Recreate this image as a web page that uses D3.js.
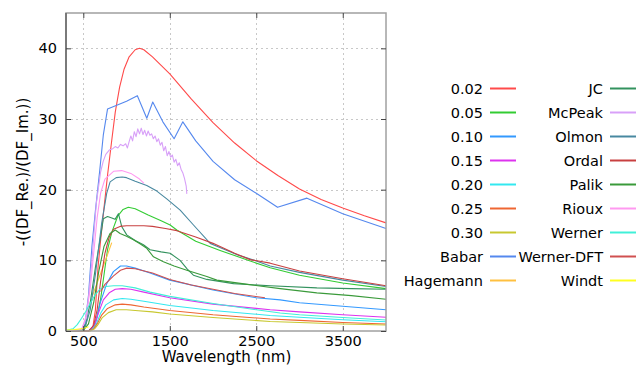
<!DOCTYPE html>
<html>
<head>
<meta charset="utf-8">
<script src="https://cdn.jsdelivr.net/npm/d3@7"></script>
<style>
  body { margin: 0; background: #fff; }
  svg { font-family: "DejaVu Sans", sans-serif; }
</style>
</head>
<body>
<div id="chart"></div>
<script>
// tick labels
const xTicks = [500, 1500, 2500, 3500];
const yTicks = [0, 10, 20, 30, 40];

// legend names, in legend order
const names = ["0.02", "0.05", "0.10", "0.15", "0.20", "0.25", "0.30", "Babar", "Hagemann",
  "JC", "McPeak", "Olmon", "Ordal", "Palik", "Rioux", "Werner", "Werner-DFT", "Windt"];

// [wavelength nm, -(Re/Im)]
const s002 = [[300,0],[560,0],[610,0.5],[640,3],[670,9],[700,12.8],[740,17.5],[780,22],[829,27],[870,31],[920,34.5],[970,37],[1030,38.8],[1100,39.8],[1150,40],[1200,39.8],[1300,38.8],[1400,37.6],[1500,36.4],[1750,32.8],[2000,29.5],[2250,26.6],[2500,24.1],[2750,22.0],[3000,20.1],[3250,18.6],[3500,17.4],[3750,16.3],[4000,15.3]];
const s005 = [[300,0],[560,0],[620,0.5],[660,2],[700,4.5],[740,8],[780,11.5],[830,14],[900,16.3],[960,17.2],[1021,17.5],[1100,17.3],[1250,16.4],[1400,15.6],[1504,15.0],[1581,14.3],[1800,12.7],[2082,11.4],[2430,9.9],[2661,8.95],[3000,7.9],[3500,6.8],[4000,6.0]];
const s010 = [[300,0],[560,0.05],[600,0.3],[640,1.1],[694,3.9],[771,6.7],[848,8.4],[930,9.2],[1000,9.2],[1100,8.9],[1272,8.2],[1500,7.2],[2000,5.8],[2500,4.7],[2777,4.4],[3000,4.0],[3500,3.5],[4000,3.0]];
const s015 = [[300,0],[560,0],[600,0.3],[640,1.2],[674,2.5],[732,4.4],[800,5.4],[870,5.9],[950,6.0],[1050,5.9],[1200,5.5],[1500,4.7],[2000,3.8],[2500,3.2],[2661,3.0],[3000,2.7],[3500,2.3],[4000,1.95]];
const s020 = [[300,0],[560,0],[610,0.3],[650,1],[700,2.5],[760,3.7],[850,4.4],[950,4.6],[1050,4.5],[1200,4.2],[1500,3.6],[2000,2.9],[2661,2.2],[3000,1.95],[3500,1.6],[4000,1.3]];
const s025 = [[300,0],[570,0],[620,0.3],[660,1],[710,2.2],[780,3.2],[870,3.7],[950,3.8],[1050,3.7],[1200,3.4],[1500,2.9],[2000,2.3],[2661,1.7],[3000,1.5],[3500,1.2],[4000,1.0]];
const s030 = [[300,0],[580,0],[630,0.3],[670,0.9],[720,1.9],[790,2.6],[880,3.0],[1000,3.0],[1100,2.9],[1300,2.7],[1500,2.4],[2000,1.9],[2661,1.35],[3000,1.2],[3500,1.0],[4000,0.85]];
const babar = [[300,0],[480,0.1],[520,1],[560,5],[600,12],[640,17],[690,22.7],[732,27.8],[780,31.4],[880,31.9],[1000,32.5],[1125,33.3],[1234,30.1],[1303,32.4],[1420,29.6],[1550,27.2],[1651,29.6],[1800,26.9],[2000,24],[2250,21.4],[2500,19.5],[2746,17.5],[3086,18.8],[3500,16.6],[4000,14.5]];
const hagemann = [[600,4.8],[660,6.8],[720,8.8],[780,10.8],[829,12.5]];
const jc = [[300,0],[480,0.1],[530,1],[580,4],[640,9],[694,12.9],[732,15.9],[780,16.2],[830,16],[867,15.8],[906,16.6],[944,14.8],[1002,13.6],[1100,12.8],[1195,12.2],[1272,11.5],[1400,11.2],[1504,11],[1619,10],[1700,8.8],[1773,7.9],[1928,7.3],[2237,6.7],[2661,6.4],[3200,6.1],[3600,6.0],[4000,5.9]];
const mcpeak = [[300,0],[480,0.2],[540,2],[600,10],[650,18],[700,22.5],[730,24],[760,25],[800,25.6],[840,25.8],[870,26.1],[900,25.9],[930,26.4],[960,26.2],[990,26.5],[1010,25.9],[1030,26.8],[1050,27.6],[1070,26.9],[1090,28.2],[1110,27.5],[1130,28.6],[1150,27.9],[1170,28.7],[1190,27.8],[1210,28.4],[1230,27.6],[1250,28.3],[1270,27.7],[1290,27.9],[1310,27.2],[1330,27.6],[1350,26.8],[1370,27.2],[1390,26.3],[1410,26.7],[1430,25.5],[1450,26.1],[1470,24.8],[1490,25.4],[1510,24.6],[1530,24.9],[1550,23.9],[1570,24.3],[1590,23.4],[1610,23.8],[1630,22.9],[1650,22.4],[1670,21.6],[1690,20.5],[1697,19.4]];
const olmon = [[300,0],[450,0],[520,0.5],[580,3],[640,8],[680,12],[713,15.3],[771,19.5],[810,21.1],[880,21.7],[950,21.8],[1000,21.7],[1100,21.2],[1234,20.6],[1350,19.8],[1465,18.7],[1620,17.1],[1774,15],[1967,12.4],[2100,11.7],[2300,10.7],[2500,9.9],[2661,9.2],[3000,8.3],[3500,7.2],[4000,6.3]];
const ordal = [[300,0],[560,0],[620,0.8],[660,3],[700,7],[750,11],[800,13.3],[850,14.4],[925,14.8],[1000,14.9],[1200,14.9],[1300,14.8],[1450,14.5],[1581,14.2],[1800,13.3],[2000,12.4],[2250,11],[2430,10.1],[2661,9.6],[3000,8.5],[3500,7.4],[4000,6.4]];
const palik = [[300,0],[500,0.1],[560,1],[620,4],[680,8.5],[740,12],[809,13.8],[870,14.3],[925,13.8],[1000,13.4],[1079,12.9],[1160,12.3],[1234,11.7],[1311,10.5],[1426,9.8],[1550,9.2],[1697,8.6],[1928,7.7],[2044,7.2],[2400,6.6],[2777,6.0],[3200,5.4],[3600,5.0],[4000,4.5]];
const rioux = [[300,0],[480,0.2],[530,2],[580,6],[620,11],[660,16],[700,19.5],[750,21.5],[850,22.6],[944,22.7],[1050,22.3],[1150,21.5],[1203,20.9]];
const werner = [[300,0.1],[380,0.3],[430,0.9],[480,1.8],[530,2.8],[580,3.9],[630,5],[690,5.9],[760,6.3],[850,6.4],[950,6.4],[1100,6.1],[1272,5.5],[1500,4.9],[2000,3.9],[2500,3.0],[2777,2.55],[3000,2.3],[3500,1.9],[4000,1.55]];
const wernerDft = [[700,5.6],[750,6.6],[850,7.8],[930,8.6],[1002,8.9],[1100,8.8],[1300,8.2],[1500,7.3],[1750,6.5],[2000,5.9],[2250,5.3],[2600,4.7]];
const windt = [[300,0.15],[400,0.2],[500,0.35],[560,0.6]];

const seriesData = [s002, s005, s010, s015, s020, s025, s030, babar, hagemann,
  jc, mcpeak, olmon, ordal, palik, rioux, werner, wernerDft, windt];
const colors = ["#ff4a4a", "#33cc33", "#3399ff", "#dd33ee", "#33e8f0", "#ee6633", "#c8c830", "#5588ee", "#ffc040",
  "#33925e", "#d8a0f8", "#4888a0", "#c84040", "#3a9a3a", "#ff99f0", "#40f0d8", "#d05050", "#ffff20"];

const W = 638, H = 367;
const margin = { top: 13, left: 66, right: 252, bottom: 36 };
const width = W - margin.left - margin.right;
const height = H - margin.top - margin.bottom;

const svg = d3.select("#chart").append("svg")
  .attr("width", W).attr("height", H);

const x = d3.scaleLinear().domain([300, 4000]).range([margin.left, margin.left + width]);
const y = d3.scaleLinear().domain([0, 45]).range([margin.top + height, margin.top]);

// grid
const grid = svg.append("g").attr("stroke", "#c8c8c8").attr("stroke-dasharray", "2,3").attr("stroke-width", 1);
grid.selectAll(".gx").data(xTicks).enter().append("line")
  .attr("x1", d => Math.round(x(d)) + 0.5).attr("x2", d => Math.round(x(d)) + 0.5)
  .attr("y1", y(45)).attr("y2", y(0));
grid.selectAll(".gy").data(yTicks.filter(d => d > 0)).enter().append("line")
  .attr("y1", d => Math.round(y(d)) + 0.5).attr("y2", d => Math.round(y(d)) + 0.5)
  .attr("x1", x(300)).attr("x2", x(4000));

// curves
const line = d3.line().x(d => x(d[0])).y(d => y(d[1]));
svg.append("g").selectAll("path").data(seriesData).enter().append("path")
  .attr("d", line)
  .attr("fill", "none")
  .attr("stroke", (d, i) => colors[i])
  .attr("stroke-width", 1.1)
  .attr("stroke-linejoin", "round");

// frame
svg.append("rect")
  .attr("x", x(300)).attr("y", y(45))
  .attr("width", width).attr("height", height)
  .attr("fill", "none").attr("stroke", "#a0a0a0").attr("stroke-width", 1.5);
svg.append("line").attr("x1", x(300)).attr("x2", x(300)).attr("y1", y(45)).attr("y2", y(0))
  .attr("stroke", "#666").attr("stroke-width", 1.5);

// axes (ticks inward)
svg.append("g").attr("transform", `translate(0,${y(0)})`)
  .call(d3.axisBottom(x).tickValues(xTicks).tickSize(-5).tickPadding(5).tickFormat(d3.format("d")))
  .call(g => g.select(".domain").remove())
  .call(g => g.selectAll("line").attr("stroke", "#444"))
  .call(g => g.selectAll("text").attr("font-size", 14.5).attr("fill", "#000").attr("font-family", "DejaVu Sans"));
svg.append("g").attr("transform", `translate(0,${y(45)})`)
  .call(d3.axisTop(x).tickValues(xTicks).tickSize(-5).tickFormat(""))
  .call(g => g.select(".domain").remove())
  .call(g => g.selectAll("line").attr("stroke", "#444"));
svg.append("g").attr("transform", `translate(${x(300)},0)`)
  .call(d3.axisLeft(y).tickValues(yTicks).tickSize(-5).tickPadding(9))
  .call(g => g.select(".domain").remove())
  .call(g => g.selectAll("line").attr("stroke", "#444"))
  .call(g => g.selectAll("text").attr("font-size", 14.5).attr("fill", "#000").attr("font-family", "DejaVu Sans"));
svg.append("g").attr("transform", `translate(${x(4000)},0)`)
  .call(d3.axisRight(y).tickValues(yTicks).tickSize(-5).tickFormat(""))
  .call(g => g.select(".domain").remove())
  .call(g => g.selectAll("line").attr("stroke", "#444"));

// axis titles
svg.append("text").attr("x", x(300) + width / 2 + 0.5).attr("y", 362)
  .attr("text-anchor", "middle").attr("font-size", 15).text("Wavelength (nm)");
svg.append("text").attr("transform", `translate(28,${margin.top + height / 2}) rotate(-90)`)
  .attr("text-anchor", "middle").attr("font-size", 15).text("-((DF_Re.)/(DF_Im.))");

// legend: two columns of nine
const legend = svg.append("g").selectAll("g").data(names).enter().append("g")
  .attr("transform", (d, i) => `translate(${i < 9 ? 483 : 603},${88.5 + (i % 9) * 24})`);
legend.append("text").attr("text-anchor", "end").attr("dy", "0.35em")
  .attr("font-size", 14.5).text(d => d);
legend.append("line").attr("x1", 7).attr("x2", 33)
  .attr("stroke", (d, i) => colors[i]).attr("stroke-width", 2);
</script>
</body>
</html>
